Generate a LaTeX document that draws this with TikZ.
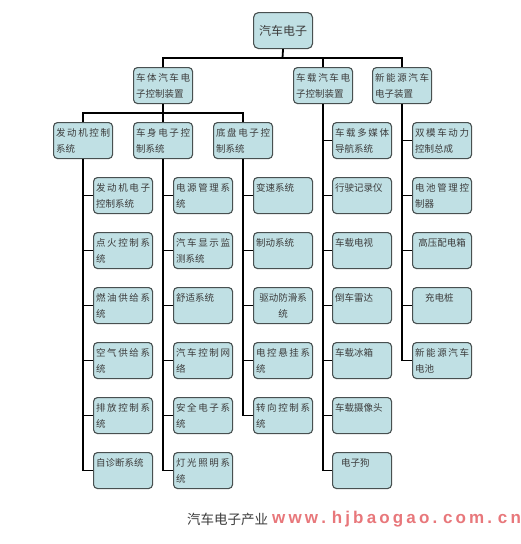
\documentclass[tikz,border=0pt]{standalone}
\usepackage{fontspec}
\newfontfamily\cjk{Noto Sans CJK SC}
\newfontfamily\wmfont{Liberation Sans}

\definecolor{boxfill}{RGB}{192,224,228}
\definecolor{boxline}{RGB}{72,80,80}
\definecolor{txtgray}{RGB}{60,60,60}
\definecolor{wmred}{RGB}{228,96,100}

% spread a first line over the box width
\def\sprfirst#1{#1\sprrest}
\def\sprrest#1{\ifx\relax#1\else\hfill#1\expandafter\sprrest\fi}
\newcommand{\spr}[1]{\makebox[54pt][s]{\sprfirst#1\relax}}

\begin{document}
\begin{tikzpicture}[x=1pt, y=-1pt,
  box/.style={draw=boxline, fill=boxfill, rounded corners=4pt, line width=1.1pt,
    minimum width=59pt, minimum height=36pt, inner xsep=2.5pt, inner ysep=1pt,
    text width=54pt, align=left, anchor=north west, text=txtgray,
    font=\cjk\fontsize{9.5}{16}\selectfont},
  topbox/.style={draw=boxline, fill=boxfill, rounded corners=5pt, line width=1.1pt,
    minimum width=59pt, minimum height=36pt, inner sep=0pt, anchor=north west,
    text=txtgray, font=\cjk\fontsize{12}{14}\selectfont},
  link/.style={line width=1.8pt, black}]
\useasboundingbox (0,0) rectangle (520,544);
\fill[white] (0,0) rectangle (520,544);

\coordinate (bus1) at (282.5,58);
\coordinate (bus2) at (162.5,113);

\node[topbox] (top) at (253,12) {汽车电子};

\node[box] (b0) at (133,67) {\spr{车体汽车电}\\子控制装置};
\node[box] (v0) at (293,67) {\spr{车载汽车电}\\子控制装置};
\node[box] (n0) at (372,67) {\spr{新能源汽车}\\电子装置};

\node[box] (e0) at (53,122) {\spr{发动机控制}\\系统};
\node[box] (s0) at (133,122) {\spr{车身电子控}\\制系统};
\node[box] (d0) at (213,122) {\spr{底盘电子控}\\制系统};

% engine
\node[box] (e1) at (93,177) {\spr{发动机电子}\\控制系统};
\node[box] (e2) at (93,232) {\spr{点火控制系}\\统};
\node[box] (e3) at (93,287) {\spr{燃油供给系}\\统};
\node[box] (e4) at (93,342) {\spr{空气供给系}\\统};
\node[box] (e5) at (93,397) {\spr{排放控制系}\\统};
\node[box] (e6) at (93,452) {自诊断系统\\ \mbox{}};

% body
\node[box] (s1) at (173,177) {\spr{电源管理系}\\统};
\node[box] (s2) at (173,232) {\spr{汽车显示监}\\测系统};
\node[box] (s3) at (173,287) {舒适系统\\ \mbox{}};
\node[box] (s4) at (173,342) {\spr{汽车控制网}\\络};
\node[box] (s5) at (173,397) {\spr{安全电子系}\\统};
\node[box] (s6) at (173,452) {\spr{灯光照明系}\\统};

% chassis
\node[box] (d1) at (253,177) {变速系统\\ \mbox{}};
\node[box] (d2) at (253,232) {制动系统\\ \mbox{}};
\node[box, align=center] (d3) at (253,287) {驱动防滑系\\统};
\node[box] (d4) at (253,342) {\spr{电控悬挂系}\\统};
\node[box] (d5) at (253,397) {\spr{转向控制系}\\统};

% in-car
\node[box] (v1) at (332,122) {\spr{车载多媒体}\\导航系统};
\node[box] (v2) at (332,177) {行驶记录仪\\ \mbox{}};
\node[box] (v3) at (332,232) {车载电视\\ \mbox{}};
\node[box] (v4) at (332,287) {倒车雷达\\ \mbox{}};
\node[box] (v5) at (332,342) {车载冰箱\\ \mbox{}};
\node[box] (v6) at (332,397) {车载摄像头\\ \mbox{}};
\node[box] (v7) at (332,452) {\hspace*{6pt}电子狗\\ \mbox{}};

% new energy
\node[box] (n1) at (412,122) {\spr{双模车动力}\\控制总成};
\node[box] (n2) at (412,177) {\spr{电池管理控}\\制器};
\node[box, align=center] (n3) at (412,232) {高压配电箱\\ \mbox{}};
\node[box] (n4) at (412,287) {\hspace*{10pt}充电桩\\ \mbox{}};
\node[box] (n5) at (412,342) {\spr{新能源汽车}\\电池};

\draw[link] (top.south) -- (bus1) -| (b0.north);
\draw[link] (bus1) -| (v0.north);
\draw[link] (bus1) -| (n0.north);

\draw[link] (b0.south) -- (s0.north);
\draw[link] (bus2) -| (e0.north);
\draw[link] (bus2) -| (d0.north);

\draw[link] (e0.south) |- (e1.west);
\draw[link] (e0.south) |- (e2.west);
\draw[link] (e0.south) |- (e3.west);
\draw[link] (e0.south) |- (e4.west);
\draw[link] (e0.south) |- (e5.west);
\draw[link] (e0.south) |- (e6.west);

\draw[link] (s0.south) |- (s1.west);
\draw[link] (s0.south) |- (s2.west);
\draw[link] (s0.south) |- (s3.west);
\draw[link] (s0.south) |- (s4.west);
\draw[link] (s0.south) |- (s5.west);
\draw[link] (s0.south) |- (s6.west);

\draw[link] (d0.south) |- (d1.west);
\draw[link] (d0.south) |- (d2.west);
\draw[link] (d0.south) |- (d3.west);
\draw[link] (d0.south) |- (d4.west);
\draw[link] (d0.south) |- (d5.west);

\draw[link] (v0.south) |- (v1.west);
\draw[link] (v0.south) |- (v2.west);
\draw[link] (v0.south) |- (v3.west);
\draw[link] (v0.south) |- (v4.west);
\draw[link] (v0.south) |- (v5.west);
\draw[link] (v0.south) |- (v6.west);
\draw[link] (v0.south) |- (v7.west);

\draw[link] (n0.south) |- (n1.west);
\draw[link] (n0.south) |- (n2.west);
\draw[link] (n0.south) |- (n3.west);
\draw[link] (n0.south) |- (n4.west);
\draw[link] (n0.south) |- (n5.west);

\node[anchor=west, inner sep=0pt, text=txtgray, font=\cjk\fontsize{13.5}{14}\selectfont] (cap) at (187,519.5) {汽车电子产业};
\node[anchor=west, inner sep=0pt, text=wmred, opacity=0.85, font=\wmfont\bfseries\fontsize{17}{18}\selectfont] (mark) at (272,519.5) {\makebox[246pt][s]{w w w . h j b a o g a o . c o m . c n}};
\end{tikzpicture}
\end{document}
